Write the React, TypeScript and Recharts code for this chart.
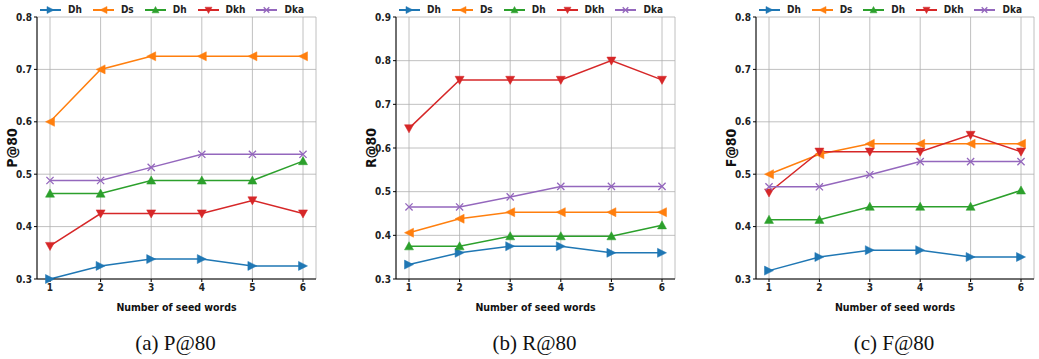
import React from "react";
import {
  LineChart,
  Line,
  XAxis,
  YAxis,
  CartesianGrid,
  Legend,
} from "recharts";

const seeds = [1, 2, 3, 4, 5, 6];

// P@80
const pDh = [0.3, 0.325, 0.338, 0.338, 0.325, 0.325];
const pDs = [0.6, 0.7, 0.725, 0.725, 0.725, 0.725];
const pDh2 = [0.463, 0.463, 0.488, 0.488, 0.488, 0.525];
const pDkh = [0.363, 0.425, 0.425, 0.425, 0.45, 0.425];
const pDka = [0.488, 0.488, 0.513, 0.538, 0.538, 0.538];

// R@80
const rDh = [0.333, 0.36, 0.375, 0.375, 0.36, 0.36];
const rDs = [0.406, 0.438, 0.453, 0.453, 0.453, 0.453];
const rDh2 = [0.375, 0.375, 0.398, 0.398, 0.398, 0.423];
const rDkh = [0.645, 0.756, 0.756, 0.756, 0.8, 0.756];
const rDka = [0.465, 0.465, 0.488, 0.512, 0.512, 0.512];

// F@80
const fDh = [0.316, 0.342, 0.355, 0.355, 0.342, 0.342];
const fDs = [0.5, 0.538, 0.558, 0.558, 0.558, 0.558];
const fDh2 = [0.413, 0.413, 0.438, 0.438, 0.438, 0.469];
const fDkh = [0.465, 0.543, 0.543, 0.543, 0.575, 0.543];
const fDka = [0.476, 0.476, 0.499, 0.524, 0.524, 0.524];

const ticks08 = [0.3, 0.4, 0.5, 0.6, 0.7, 0.8];
const ticks09 = [0.3, 0.4, 0.5, 0.6, 0.7, 0.8, 0.9];

const series = [
  { key: "dh", name: "Dh", color: "#1f77b4", marker: "right" },
  { key: "ds", name: "Ds", color: "#ff7f0e", marker: "left" },
  { key: "dh2", name: "Dh", color: "#2ca02c", marker: "up" },
  { key: "dkh", name: "Dkh", color: "#d62728", marker: "down" },
  { key: "dka", name: "Dka", color: "#9467bd", marker: "x" },
];

const tickFont = "'DejaVu Sans Condensed', 'DejaVu Sans', sans-serif";

const buildRows = (dh: number[], ds: number[], dh2: number[], dkh: number[], dka: number[]) =>
  seeds.map((s, i) => ({ seed: s, dh: dh[i], ds: ds[i], dh2: dh2[i], dkh: dkh[i], dka: dka[i] }));

// marker shapes like matplotlib's > < ^ v x
const Marker = ({ cx, cy, shape, color, r = 4.5 }: any) => {
  if (cx == null || cy == null) return null;
  if (shape === "x") {
    const d = r * 0.8;
    return (
      <path
        d={`M${cx - d},${cy - d}L${cx + d},${cy + d}M${cx - d},${cy + d}L${cx + d},${cy - d}`}
        stroke={color}
        strokeWidth={1.3}
        fill="none"
      />
    );
  }
  let pts = "";
  if (shape === "right") pts = `${cx + r},${cy} ${cx - r},${cy - r} ${cx - r},${cy + r}`;
  if (shape === "left") pts = `${cx - r},${cy} ${cx + r},${cy - r} ${cx + r},${cy + r}`;
  if (shape === "up") pts = `${cx},${cy - r} ${cx - r},${cy + r * 0.8} ${cx + r},${cy + r * 0.8}`;
  if (shape === "down") pts = `${cx},${cy + r} ${cx - r},${cy - r * 0.8} ${cx + r},${cy - r * 0.8}`;
  return <polygon points={pts} fill={color} stroke={color} strokeWidth={0.5} />;
};

const LegendBox = () => (
  <div
    style={{
      display: "flex",
      justifyContent: "space-between",
      height: 15,
      padding: "0 12px 0 40px",
      fontFamily: tickFont,
      fontSize: 10,
      fontWeight: "bold",
      color: "#222",
    }}
  >
    {series.map((s) => (
      <div key={s.key} style={{ display: "flex", alignItems: "center", height: 15 }}>
        <svg width={21} height={12} style={{ marginRight: 7 }}>
          <line x1={0} y1={6} x2={21} y2={6} stroke={s.color} strokeWidth={2} />
          <Marker cx={10.5} cy={6} shape={s.marker} color={s.color} r={3.5} />
        </svg>
        <span>{s.name}</span>
      </div>
    ))}
  </div>
);

const YLabel = ({ viewBox, value }: any) => {
  const x = 12;
  const y = viewBox.y + viewBox.height / 2;
  return (
    <text
      x={x}
      y={y}
      transform={`rotate(-90, ${x}, ${y})`}
      textAnchor="middle"
      dominantBaseline="central"
      fill="#111"
      fontSize={14}
      fontFamily={tickFont}
      fontWeight="bold"
    >
      {value}
    </text>
  );
};

interface PanelProps {
  left: number;
  width: number;
  data: any[];
  yLabel: string;
  yMax: number;
  yTicks: number[];
  caption: string;
}

const Panel = ({ left, width, data, yLabel, yMax, yTicks, caption }: PanelProps) => (
  <div style={{ position: "absolute", left, top: 0 }}>
    <LineChart width={width} height={312} data={data} margin={{ top: 2, right: 5, left: 0, bottom: 0 }}>
      <Legend verticalAlign="top" content={() => <LegendBox />} />
      <CartesianGrid stroke="#b0b0b0" strokeWidth={0.8} />
      <XAxis
        dataKey="seed"
        padding={{ left: 13, right: 13 }}
        tickLine={{ stroke: "#000" }}
        tickSize={3}
        axisLine={{ stroke: "#000" }}
        tick={{ fill: "#222", fontSize: 10, fontFamily: tickFont, fontWeight: "bold" }}
        height={33}
        label={{
          value: "Number of seed words",
          position: "insideBottom",
          offset: 1,
          fill: "#111",
          fontSize: 10.5,
          fontFamily: tickFont,
          fontWeight: "bold",
        }}
      />
      <XAxis xAxisId="top" dataKey="seed" orientation="top" height={0} tick={false} tickLine={false} axisLine={{ stroke: "#000" }} />
      <YAxis
        type="number"
        domain={[0.3, yMax]}
        ticks={yTicks}
        tickFormatter={(v: number) => v.toFixed(1)}
        width={37}
        tickSize={3}
        tickLine={{ stroke: "#000" }}
        axisLine={{ stroke: "#000" }}
        tick={{ fill: "#222", fontSize: 10, fontFamily: tickFont, fontWeight: "bold" }}
        label={{ value: yLabel, content: (p: any) => <YLabel viewBox={p.viewBox} value={yLabel} /> }}
      />
      <YAxis yAxisId="right" orientation="right" width={0} domain={[0.3, yMax]} tick={false} tickLine={false} axisLine={{ stroke: "#000" }} />
      {series.map((s) => (
        <Line
          key={s.key}
          dataKey={s.key}
          name={s.name}
          stroke={s.color}
          strokeWidth={1.5}
          isAnimationActive={false}
          dot={(p: any) => <Marker key={`${s.key}-${p.index}`} cx={p.cx} cy={p.cy} shape={s.marker} color={s.color} />}
          activeDot={false}
        />
      ))}
    </LineChart>
    <div
      style={{
        position: "absolute",
        left: 10,
        width: width + 10,
        top: 331,
        textAlign: "center",
        fontFamily: "'Liberation Serif', serif",
        fontSize: 21,
        lineHeight: "24px",
        color: "#111",
      }}
    >
      {caption}
    </div>
  </div>
);

const App = () => (
  <div style={{ position: "absolute", left: 0, top: 0, width: 1039, height: 359, background: "#fff", overflow: "hidden" }}>
    <Panel left={0} width={321} data={buildRows(pDh, pDs, pDh2, pDkh, pDka)} yLabel="P@80" yMax={0.8} yTicks={ticks08} caption="(a) P@80" />
    <Panel left={359} width={321} data={buildRows(rDh, rDs, rDh2, rDkh, rDka)} yLabel="R@80" yMax={0.9} yTicks={ticks09} caption="(b) R@80" />
    <Panel left={719} width={320} data={buildRows(fDh, fDs, fDh2, fDkh, fDka)} yLabel="F@80" yMax={0.8} yTicks={ticks08} caption="(c) F@80" />
  </div>
);

export default App;
